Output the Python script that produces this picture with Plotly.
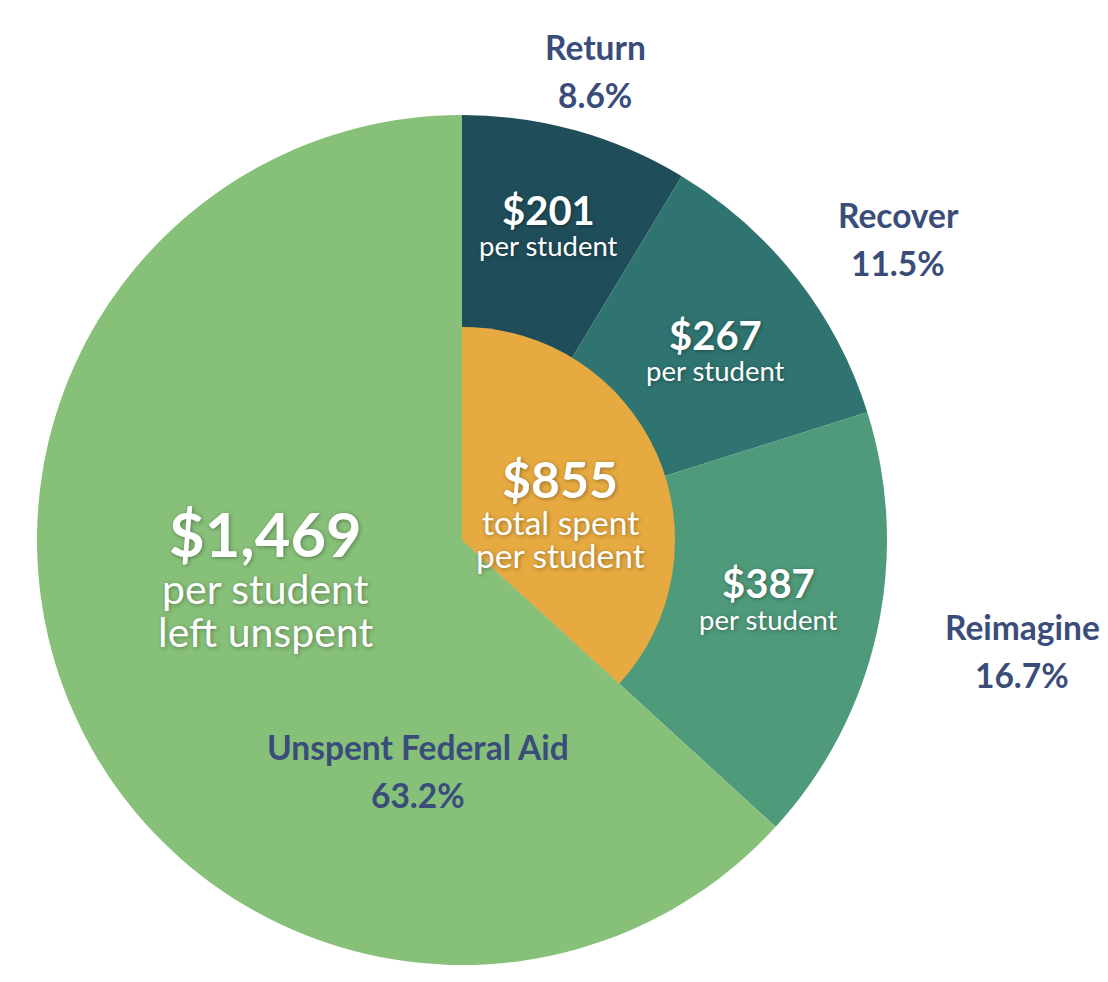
import plotly.graph_objects as go

# ---- data ----
categories = ["Return", "Recover", "Reimagine", "Unspent Federal Aid"]
per_student = [201, 267, 387, 1469]
pct_labels = ["8.6%", "11.5%", "16.7%", "63.2%"]
slice_colors = ["#1F4E5A", "#2F7470", "#4F9A7B", "#87C079"]
spent_total = sum(per_student[:3])  # 855

W, H = 1108, 982
OFF = 8  # page body margin offset
CX, CY, R_OUT, R_IN = 462, 540, 425, 213

def fx(px):
    return (px - OFF) / W

def fy(py):
    return 1 - (py - OFF) / H

def dom(cx, cy, r):
    return dict(x=[fx(cx - r), fx(cx + r)], y=[fy(cy + r), fy(cy - r)])

fig = go.Figure()
fig.add_trace(go.Pie(
    labels=categories, values=per_student, sort=False, direction="clockwise", rotation=0,
    marker=dict(colors=slice_colors, line=dict(width=0)), textinfo="none",
    domain=dom(CX, CY, R_OUT), hoverinfo="label+value+percent",
))
fig.add_trace(go.Pie(
    labels=["Spent", "Unspent"], values=[spent_total, per_student[3]], sort=False,
    direction="clockwise", rotation=0,
    marker=dict(colors=["#E6AA40", "rgba(0,0,0,0)"], line=dict(width=0)), textinfo="none",
    domain=dom(CX, CY, R_IN), hoverinfo="skip",
))

NAVY = "#3A4D7A"
FONT = "Lato"
SH = "1px 1px 4px rgba(0,0,0,0.35)"
ann = []

def add(text, px, py, size, color, bold=False, shadow=None):
    f = dict(family=FONT, size=size, color=color, weight=700 if bold else 400)
    if shadow:
        f["shadow"] = shadow
    ann.append(dict(text=text, x=fx(px), y=fy(py), xref="paper", yref="paper",
                    xanchor="center", yanchor="middle", showarrow=False, font=f))

# outer category labels
outer_pos = [(595, 47), (898, 215), (1022, 627), (418, 747)]
for cat, pct, (px, py) in zip(categories, pct_labels, outer_pos):
    add(cat, px, py, 33.5, NAVY, bold=True)
    add(pct, px, py + 48, 33.5, NAVY, bold=True)

# per-student labels on spent slices
inner_pos = [(548, 210), (715, 335), (768, 583)]
for v, (px, py) in zip(per_student[:3], inner_pos):
    add(f"${v:,}", px, py, 40, "white", bold=True, shadow=SH)
    add("per student", px, py + 36, 27.5, "white", shadow=SH)

# total spent
add(f"${spent_total:,}", 560, 479, 50, "white", bold=True, shadow=SH)
add("total spent", 560, 522, 33.5, "white", shadow=SH)
add("per student", 560, 555, 33.5, "white", shadow=SH)

# unspent
add(f"${per_student[3]:,}", 265, 533, 61.5, "white", bold=True, shadow=SH)
add("per student", 265, 588, 41, "white", shadow=SH)
add("left unspent", 265, 631, 41, "white", shadow=SH)

fig.update_layout(
    width=W, height=H, margin=dict(l=0, r=0, t=0, b=0),
    paper_bgcolor="white", plot_bgcolor="white", showlegend=False,
    annotations=ann,
)
fig.write_html("out.html")
